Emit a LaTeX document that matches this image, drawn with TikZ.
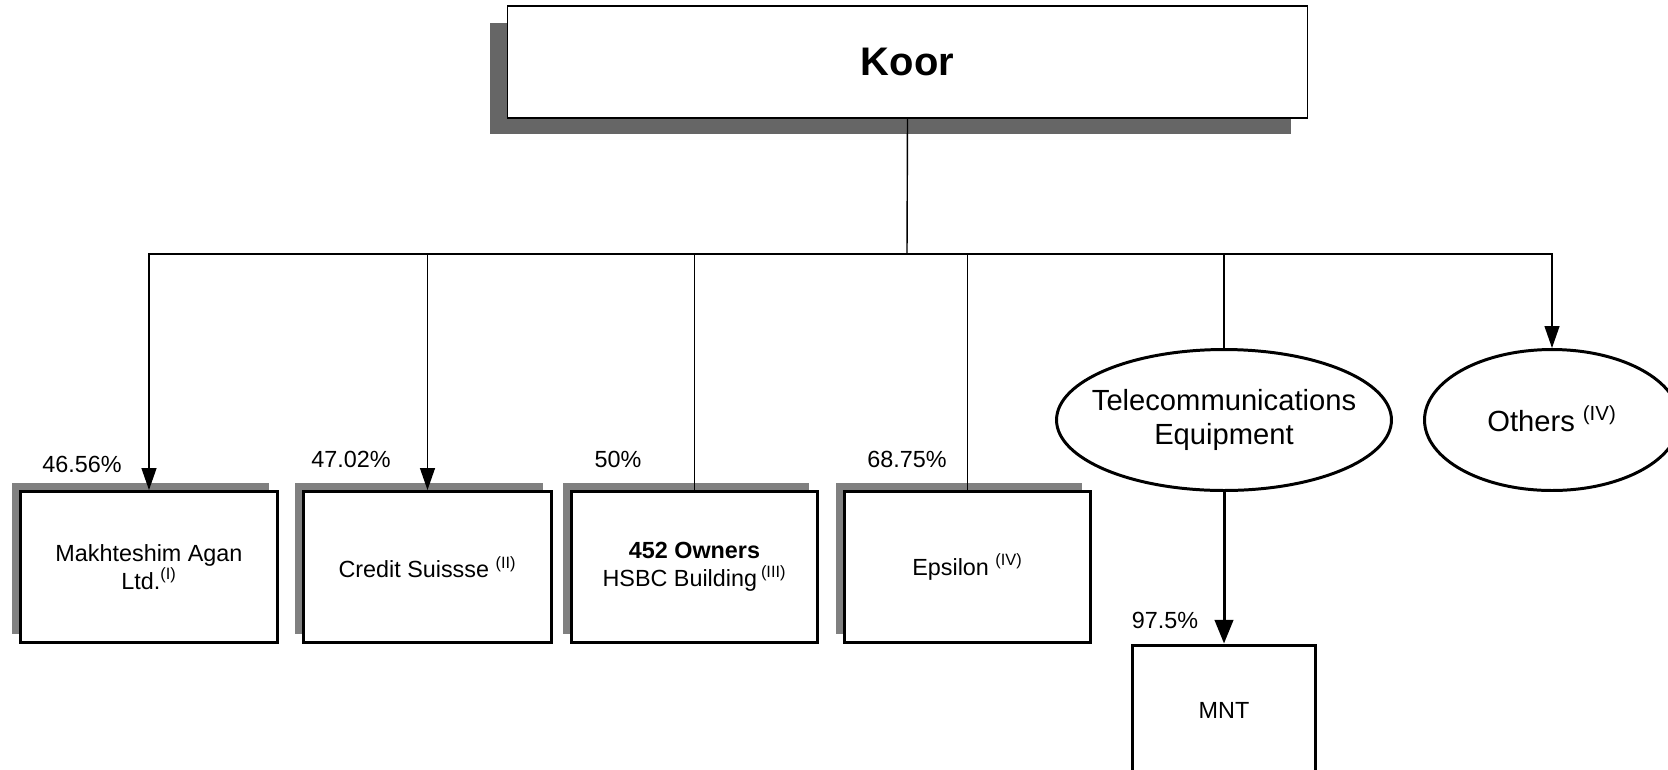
\documentclass[tikz,border=0pt]{standalone}
\usepackage{fontspec}
\setmainfont{Liberation Sans}
\usetikzlibrary{arrows.meta,shapes.geometric,shadows}
\definecolor{koorshade}{HTML}{666666}
\definecolor{unitshade}{HTML}{808080}
\tikzset{
  koorbox/.style={draw,line width=0.6pt,fill=white,inner sep=0pt,
    minimum width=16.02cm,minimum height=2.24cm,
    font=\fontsize{22.7}{27}\selectfont\bfseries,
    drop shadow={shadow xshift=-0.34cm,shadow yshift=-0.33cm,fill=koorshade,opacity=1}},
  unitbox/.style={draw,line width=1.7pt,fill=white,inner sep=0pt,
    minimum height=3.02cm,align=center,font=\fontsize{13.3}{15.7}\selectfont,
    drop shadow={shadow xshift=-0.17cm,shadow yshift=0.17cm,fill=unitshade,opacity=1}},
  mntbox/.style={draw,line width=1.7pt,fill=white,inner sep=0pt,
    minimum width=3.68cm,minimum height=2.6cm,font=\fontsize{13.3}{15.7}\selectfont},
  sector/.style={draw,ellipse,line width=1.7pt,fill=white,inner xsep=-10pt,inner ysep=0pt,
    minimum height=2.82cm,align=center,font=\fontsize{16.6}{19.6}\selectfont},
  pct/.style={inner sep=0pt,font=\fontsize{13.3}{15.7}\selectfont},
  link/.style={line width=0.8pt},
  busline/.style={line width=1.4pt},
  linkarr/.style={line width=0.8pt,-{Triangle[length=12.5pt,width=8.5pt]}},
  thickarr/.style={line width=1.7pt,-{Triangle[length=13.5pt,width=10.5pt]}}
}
\begin{document}
\begin{tikzpicture}[x=0.02cm,y=-0.02cm]
\useasboundingbox (0,0) rectangle (1668,769);
% holding company
\node[koorbox] (koor) at (907.5,62) {Koor};
% held companies
\node[unitbox,minimum width=5.14cm] (mak) at (149,567) {Makhteshim Agan\\Ltd.\textsuperscript{(I)}};
\node[unitbox,minimum width=4.96cm] (cs) at (427.5,567) {Credit Suissse \textsuperscript{(II)}};
\node[unitbox,minimum width=4.94cm] (own) at (694.5,567) {\textbf{452 Owners}\\HSBC Building\,\textsuperscript{(III)}};
\node[unitbox,minimum width=4.94cm] (eps) at (967.5,567) {Epsilon \textsuperscript{(IV)}};
\node[sector,minimum width=6.7cm] (tel) at (1224,420) {Telecommunications\\Equipment};
\node[sector,minimum width=5.1cm] (oth) at (1552,420) {\raisebox{2pt}{Others \textsuperscript{(IV)}}};
\node[mntbox] (mnt) at (1224,710) {MNT};
% holdings
\node[pct] (pmak) at (82,464) {46.56\%};
\node[pct] (pcs) at (351,459) {47.02\%};
\node[pct] (pown) at (618,459) {50\%};
\node[pct] (peps) at (907,459) {68.75\%};
\node[pct] (pmnt) at (1165,620) {97.5\%};
% connectors
\coordinate (split) at (907,254);
\draw[link] (koor.south) -- (split);
\draw[busline] (mak.north|-split) -- (oth.north|-split);
\draw[linkarr] (split) -| (mak);
\draw[linkarr] (split) -| (cs);
\draw[link] (split) -| (own);
\draw[link] (split) -| (eps);
\draw[link] (split) -| (tel);
\draw[linkarr] (split) -| (oth);
\draw[thickarr] (tel) -- (mnt);
\end{tikzpicture}
\end{document}
